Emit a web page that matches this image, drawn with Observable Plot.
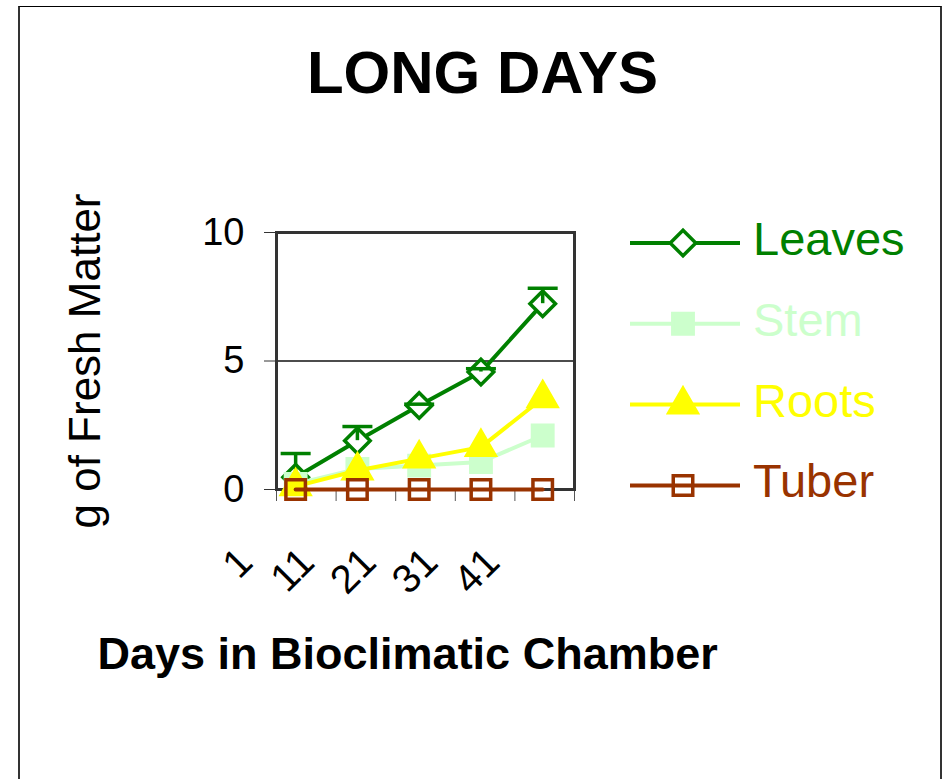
<!DOCTYPE html>
<html>
<head>
<meta charset="utf-8">
<script src="https://cdn.jsdelivr.net/npm/d3@7"></script>
<script src="https://cdn.jsdelivr.net/npm/@observablehq/plot@0.6"></script>
<style>
html,body{margin:0;padding:0;background:#fff;}
#wrap{position:relative;width:944px;height:779px;overflow:hidden;font-family:"Liberation Sans",Arial,sans-serif;background:#fff;}
#box{position:absolute;left:18px;top:6px;width:924px;height:800px;border-top:1px solid #000;border-left:2px solid #333;border-right:2px solid #333;box-sizing:border-box;pointer-events:none;}
#wrap svg{position:absolute;left:0;top:0;}
</style>
</head>
<body>
<div id="wrap"><div id="box"></div></div>
<script>
// ---- data ----
const dayLabels = ["1", "11", "21", "31", "41"];
const dayIndex = [1, 2, 3, 4, 5];
const leaves = [0.48, 1.9, 3.27, 4.57, 7.23];
const leavesErr = [0.92, 0.55, 0.05, 0.13, 0.6];
const stem = [0.22, 0.8, 0.93, 1.07, 2.1];
const roots = [0.12, 0.74, 1.2, 1.65, 3.55];
const tuber = [0, 0, 0, 0, 0];
const yTicks = [0, 5, 10];
const xTickEdges = [0.69, 1.655, 2.62, 3.585, 4.55, 5.515];
const seriesNames = ["Leaves", "Stem", "Roots", "Tuber"];
const seriesValues = [leaves, stem, roots, tuber];
const seriesColors = ["#008000", "#CCFFCC", "#FFFF00", "#993300"];
const seriesSymbols = ["diamond2", "square", "triangle", "square"];
const seriesFills = ["#ffffff", "#CCFFCC", "#FFFF00", "none"];
const seriesR = [11.5, 11.5, 10.5, 11];

const series = seriesNames.map((name, k) => ({
  name, color: seriesColors[k], symbol: seriesSymbols[k], fill: seriesFills[k], r: seriesR[k],
  rows: dayIndex.map((d, i) => ({x: d, y: seriesValues[k][i]}))
}));
const errRows = dayIndex.map((d, i) => ({x: d, y1: leaves[i], y2: leaves[i] + leavesErr[i]}));

const capSymbol = {
  draw(context, size) {
    const w = Math.sqrt(size / Math.PI);
    context.moveTo(-w, 0);
    context.lineTo(w, 0);
  }
};

const marks = [
  Plot.ruleY([5], {stroke: "#111", strokeWidth: 1.3}),
  Plot.axisY(yTicks, {tickSize: 12, tickPadding: 20, fontSize: 38, label: null, tickFormat: d => String(d), stroke: "#333"}),
  Plot.axisX(xTickEdges, {tickSize: 12, tickFormat: () => "", label: null, stroke: "#555"}),
  Plot.frame({stroke: "#333", strokeWidth: 3})
];
series.forEach((s, k) => {
  marks.push(Plot.line(s.rows, {x: "x", y: "y", stroke: s.color, strokeWidth: 4}));
  marks.push(Plot.dot(s.rows, {x: "x", y: "y", symbol: s.symbol, r: s.r, stroke: s.color, strokeWidth: 3.5, fill: s.fill}));
  if (k === 0) {
    marks.push(Plot.ruleX(errRows, {x: "x", y1: "y1", y2: "y2", stroke: s.color, strokeWidth: 3.5}));
    marks.push(Plot.dot(errRows, {x: "x", y: "y2", symbol: capSymbol, r: 15, stroke: s.color, strokeWidth: 3.5}));
  }
});
marks.push(
  Plot.text(dayIndex, {x: d => d, y: () => 0, text: (d, i) => dayLabels[i], rotate: -45, textAnchor: "end", lineAnchor: "middle", dx: -50, dy: 66, fontSize: 40, fill: "#000"}),
  Plot.text(["g of Fresh Matter"], {frameAnchor: "left", textAnchor: "middle", rotate: -90, lineAnchor: "middle", dx: -191, fontSize: 44, fill: "#000"}),
  Plot.text(["Days in Bioclimatic Chamber"], {frameAnchor: "bottom-left", textAnchor: "start", lineAnchor: "bottom", dx: -179, dy: 179, fontSize: 45, fontWeight: "bold", fill: "#000"}),
  Plot.text(["LONG DAYS"], {frameAnchor: "top", lineAnchor: "bottom", dx: 57, dy: -140, fontSize: 60, fontWeight: "bold", fill: "#000"})
);

const chart = Plot.plot({
  width: 944,
  height: 779,
  marginLeft: 276,
  marginRight: 370,
  marginTop: 232,
  marginBottom: 290,
  style: {fontFamily: "'Liberation Sans', Arial, sans-serif", background: "transparent", color: "#000", overflow: "visible"},
  x: {type: "linear", domain: [0.69, 5.515]},
  y: {domain: [0, 10]},
  marks
});
document.getElementById("wrap").appendChild(chart);

// ---- legend ----
const symbolMap = {diamond2: d3.symbolDiamond2, square: d3.symbolSquare, triangle: d3.symbolTriangle};
const leg = d3.select("#wrap").append("svg")
  .attr("width", 944).attr("height", 779)
  .style("pointer-events", "none");
series.forEach((s, i) => {
  const cy = 243 + i * 80.8;
  const g = leg.append("g").attr("transform", `translate(0,${cy})`);
  g.append("line").attr("x1", 630).attr("x2", 740).attr("y1", 0).attr("y2", 0)
    .attr("stroke", s.color).attr("stroke-width", 4);
  g.append("path")
    .attr("d", d3.symbol(symbolMap[s.symbol], Math.PI * s.r * s.r)())
    .attr("transform", "translate(683,0)")
    .attr("fill", s.fill).attr("stroke", s.color).attr("stroke-width", 3.5);
  g.append("text").attr("x", 753).attr("y", 12)
    .attr("font-family", "'Liberation Sans', Arial, sans-serif")
    .attr("font-size", 47).attr("fill", s.color).text(s.name);
});
</script>
</body>
</html>
